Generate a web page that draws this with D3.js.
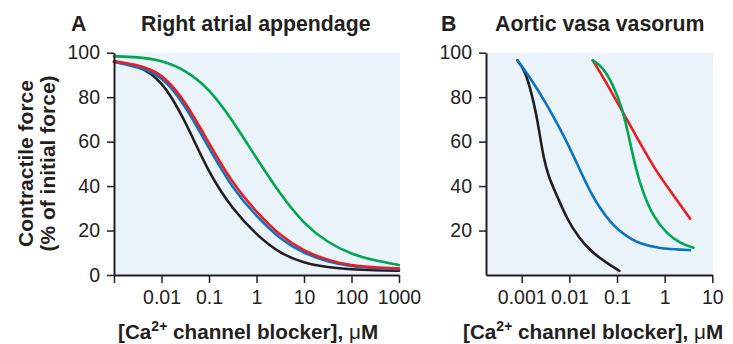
<!DOCTYPE html>
<html><head><meta charset="utf-8">
<script src="https://cdn.jsdelivr.net/npm/d3@7"></script>
<style>
body{margin:0;background:#fff}
svg{display:block}
text{font-family:"Liberation Sans",Arial,Helvetica,sans-serif;fill:#231f20}
</style>
</head><body>
<svg id="chart" width="733" height="344"></svg>
<script>
// ---------- Data (concentration in µM, contractile force in % of initial) ----------
// Panel A: Right atrial appendage
const concA   = [0.001, 0.00316, 0.01, 0.0316, 0.1, 0.316, 1, 3.16, 10, 31.6, 100, 316, 1000];
const blackA  = [95.9, 94.3, 88.0, 69.5, 45.5, 29.5, 18.0, 9.6, 5.3, 3.4, 2.5, 2.1, 1.9];
const blueA   = [95.9, 93.6, 89.9, 76.5, 56.9, 38.8, 26.3, 16.0, 9.7, 5.9, 3.8, 3.0, 2.7];
const redA    = [96.2, 94.5, 91.0, 78.3, 59.2, 41.0, 28.3, 17.5, 10.8, 6.6, 4.3, 3.4, 3.0];
const greenA  = [98.4, 98.1, 96.6, 92.3, 84.0, 69.5, 52.5, 36.3, 22.8, 14.6, 9.2, 6.5, 4.5];

// Panel B: Aortic vasa vasorum
const concBlackB = [0.00081, 0.00117, 0.00162, 0.00207, 0.00243, 0.00285, 0.00363, 0.00562, 0.00912, 0.0162, 0.0272, 0.044, 0.0713, 0.112];
const blackB     = [96.6, 92.0, 81.6, 71.2, 62.2, 53.2, 44.2, 35.2, 24.7, 16.5, 11.2, 7.5, 4.5, 1.9];
const concBlueB  = [0.00081, 0.00162, 0.00309, 0.00631, 0.0103, 0.0167, 0.0272, 0.044, 0.0713, 0.116, 0.187, 0.304, 0.492, 0.798, 1.29, 2.1, 3.4];
const blueB      = [96.6, 87.8, 78.0, 66.0, 57.0, 47.2, 37.5, 30.0, 24.0, 19.5, 16.5, 14.2, 13.0, 12.1, 11.7, 11.4, 11.2];
const concRedB   = [0.0309, 0.0586, 0.132, 0.296, 0.631, 1.51, 3.43];
const redB       = [96.6, 86.9, 73.2, 59.8, 47.3, 36.0, 25.3];
const concGreenB = [0.0309, 0.0498, 0.0809, 0.132, 0.178, 0.251, 0.355, 0.578, 1.1, 2.1, 4.03];
const greenB     = [96.6, 93.6, 86.1, 74.5, 62.0, 47.2, 36.7, 26.2, 18.7, 14.2, 12.3];

// Tick values / labels
const xTicksA  = [0.001, 0.01, 0.1, 1, 10, 100, 1000];
const xLabelsA = ["", "0.01", "0.1", "1", "10", "100", "1000"];
const yTicksA  = [0, 20, 40, 60, 80, 100];
const xTicksB  = [0.001, 0.01, 0.1, 1, 10];
const xLabelsB = ["0.001", "0.01", "0.1", "1", "10"];
const yTicksB  = [20, 40, 60, 80, 100];

const colors = {black:"#231f20", blue:"#0a74be", red:"#ec1c24", green:"#00a651"};

// ---------- Drawing ----------
const svg = d3.select("#chart");
const bg = "#eaf2fa";
const axisColor = "#231f20";

const y = d3.scaleLinear().domain([0, 100]).range([275, 52.7]);
const xA = d3.scaleLog().domain([0.001, 1000]).range([114, 399]);
const xB = d3.scaleLog().domain([Math.pow(10, -3.75), 10]).range([486, 712.3]);

function panel(x, xTicks, xLabels, yTicks, series, bgRight) {
  const g = svg.append("g");
  g.append("rect")
    .attr("x", x.range()[0]).attr("y", y(100))
    .attr("width", bgRight - x.range()[0]).attr("height", y(0) - y(100))
    .attr("fill", bg);
  series.forEach(s => {
    const pts = s.conc.map((c, i) => [c, s.vals[i]]);
    g.append("path")
      .datum(pts)
      .attr("fill", "none")
      .attr("stroke", s.color)
      .attr("stroke-width", 2.6)
      .attr("stroke-linecap", "round")
      .attr("d", d3.line().x(d => x(d[0])).y(d => y(d[1])).curve(d3.curveBasis));
  });
  const xa = g.append("g").attr("transform", `translate(0,${y(0)})`)
    .call(d3.axisBottom(x).tickValues(xTicks).tickFormat((d, i) => xLabels[i])
      .tickSize(8).tickSizeOuter(0).tickPadding(7));
  const ya = g.append("g").attr("transform", `translate(${x.range()[0]},0)`)
    .call(d3.axisLeft(y).tickValues(yTicks).tickSize(7).tickSizeOuter(0).tickPadding(7));
  [xa, ya].forEach(a => {
    a.select(".domain").attr("stroke", axisColor).attr("stroke-width", 2);
    a.selectAll(".tick line").attr("stroke", axisColor).attr("stroke-width", 1.5);
    a.selectAll(".tick text").style("font-family", '"Liberation Sans",Arial,sans-serif')
      .style("font-size", "19.5px").attr("fill", axisColor);
  });
  return g;
}

panel(xA, xTicksA, xLabelsA, yTicksA, [
  {conc: concA, vals: greenA, color: colors.green},
  {conc: concA, vals: blackA, color: colors.black},
  {conc: concA, vals: blueA, color: colors.blue},
  {conc: concA, vals: redA, color: colors.red}
], 400);

panel(xB, xTicksB, xLabelsB, yTicksB, [
  {conc: concBlackB, vals: blackB, color: colors.black},
  {conc: concBlueB, vals: blueB, color: colors.blue},
  {conc: concRedB, vals: redB, color: colors.red},
  {conc: concGreenB, vals: greenB, color: colors.green}
], 713);

// Titles
function boldText(x, yy, str, anchor) {
  return svg.append("text").attr("x", x).attr("y", yy)
    .attr("text-anchor", anchor || "start")
    .style("font-size", "21.3px").style("font-weight", "bold").text(str);
}
boldText(71, 30.5, "A");
boldText(141, 30.5, "Right atrial appendage");
boldText(441, 30.5, "B");
boldText(495, 30.5, "Aortic vasa vasorum");

// Y axis label (panel A)
const yl = svg.append("text")
  .attr("transform", "translate(33,163.5) rotate(-90)")
  .attr("text-anchor", "middle")
  .style("font-size", "21px").style("font-weight", "bold");
yl.append("tspan").attr("x", 0).attr("y", 0).text("Contractile force");
yl.append("tspan").attr("x", 0).attr("y", 22).text("(% of initial force)");

// X axis labels
function xLabel(x0) {
  const t = svg.append("text").attr("x", x0).attr("y", 339)
    .style("font-size", "20.7px").style("font-weight", "bold");
  t.append("tspan").text("[Ca");
  t.append("tspan").attr("dy", -8).style("font-size", "14px").text("2+");
  t.append("tspan").attr("dy", 8).text(" channel blocker], ");
  t.append("tspan").style("font-weight", "normal").text("\u03bc");
  t.append("tspan").text("M");
}
xLabel(118);
xLabel(463);
</script>
</body></html>
